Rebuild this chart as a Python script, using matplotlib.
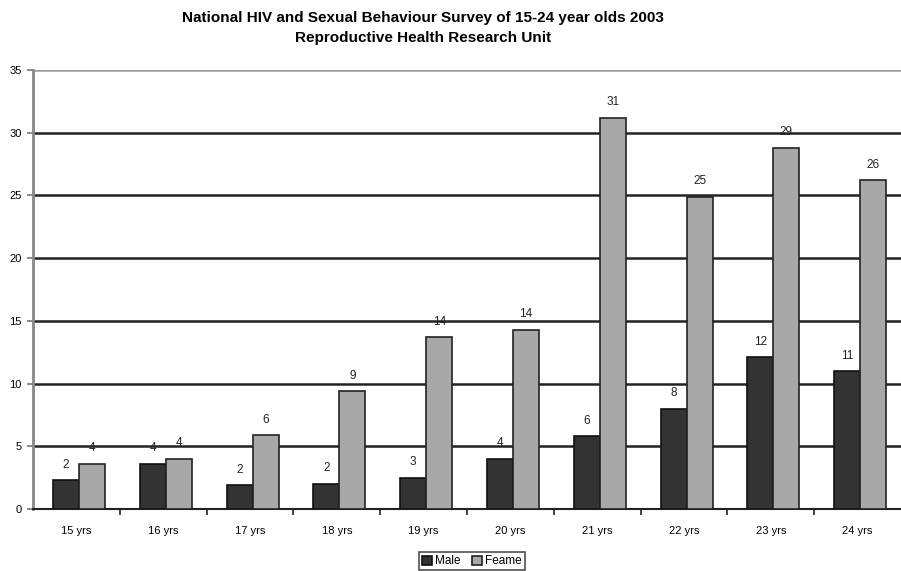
import numpy as np
import matplotlib
matplotlib.use("Agg")
import matplotlib.pyplot as plt

plt.rcParams['font.family'] = ['Liberation Sans', 'DejaVu Sans']

# data
ages = ["15 yrs", "16 yrs", "17 yrs", "18 yrs", "19 yrs",
        "20 yrs", "21 yrs", "22 yrs", "23 yrs", "24 yrs"]
male = [2.3, 3.6, 1.9, 2.0, 2.5, 4.0, 5.8, 8.0, 12.1, 11.0]
female = [3.6, 4.0, 5.9, 9.4, 13.7, 14.3, 31.2, 24.9, 28.8, 26.2]
male_labels = ["2", "4", "2", "2", "3", "4", "6", "8", "12", "11"]
female_labels = ["4", "4", "6", "9", "14", "14", "31", "25", "29", "26"]

fig = plt.figure(figsize=(9.01, 5.71), dpi=100)
ax = fig.add_axes([0.0366, 0.1086, 0.9634, 0.7688])

x = np.arange(len(ages))
w = 0.3
b1 = ax.bar(x - w / 2 + 0.03, male, w, color="#333333", edgecolor="#111111",
            linewidth=1.2, label="Male", zorder=3)
b2 = ax.bar(x + w / 2 + 0.03, female, w, color="#a8a8a8", edgecolor="#222222",
            linewidth=1.2, label="Feame", zorder=3)

for bars, labs in ((b1, male_labels), (b2, female_labels)):
    for r, t in zip(bars, labs):
        ax.text(r.get_x() + r.get_width() / 2, r.get_height() + 0.75, t,
                ha="center", va="bottom", fontsize=8.5, color="#222222", zorder=4)

ax.set_xlim(-0.5, len(ages) - 0.5)
ax.set_ylim(0, 35)
ax.set_yticks(range(0, 36, 5))
ax.set_xticks(x)
ax.set_xticklabels(ages)
ax.set_xticks(x[:-1] + 0.5, minor=True)
ax.tick_params(axis="x", which="major", length=0, labelsize=8, pad=12)
ax.tick_params(axis="x", which="minor", length=4, width=1.2, color="#222222")
ax.tick_params(axis="y", length=4, width=1.2, color="#777777", labelsize=8, pad=4)

for v in range(5, 35, 5):
    ax.axhline(v, color="#222222", linewidth=1.8, zorder=1)
ax.axhline(35, color="#999999", linewidth=1.8, zorder=1)

for s in ("top", "right"):
    ax.spines[s].set_visible(False)
ax.spines["left"].set_color("#888888")
ax.spines["left"].set_linewidth(2)
ax.spines["bottom"].set_color("#222222")
ax.spines["bottom"].set_linewidth(1.5)

fig.text(0.469, 0.968, "National HIV and Sexual Behaviour Survey of 15-24 year olds 2003",
         ha="center", va="center", fontsize=11, fontweight="bold")
fig.text(0.469, 0.933, "Reproductive Health Research Unit",
         ha="center", va="center", fontsize=11, fontweight="bold")

leg = fig.legend(handles=[b1, b2], loc="center", bbox_to_anchor=(0.524, 0.017),
                 ncol=2, fontsize=8.5, frameon=True, fancybox=False,
                 handlelength=0.8, handleheight=0.8, handletextpad=0.3,
                 columnspacing=1.0, borderpad=0.25)
leg.get_frame().set_edgecolor("#222222")
leg.get_frame().set_linewidth(1.2)

fig.savefig("out.png", dpi=100)
